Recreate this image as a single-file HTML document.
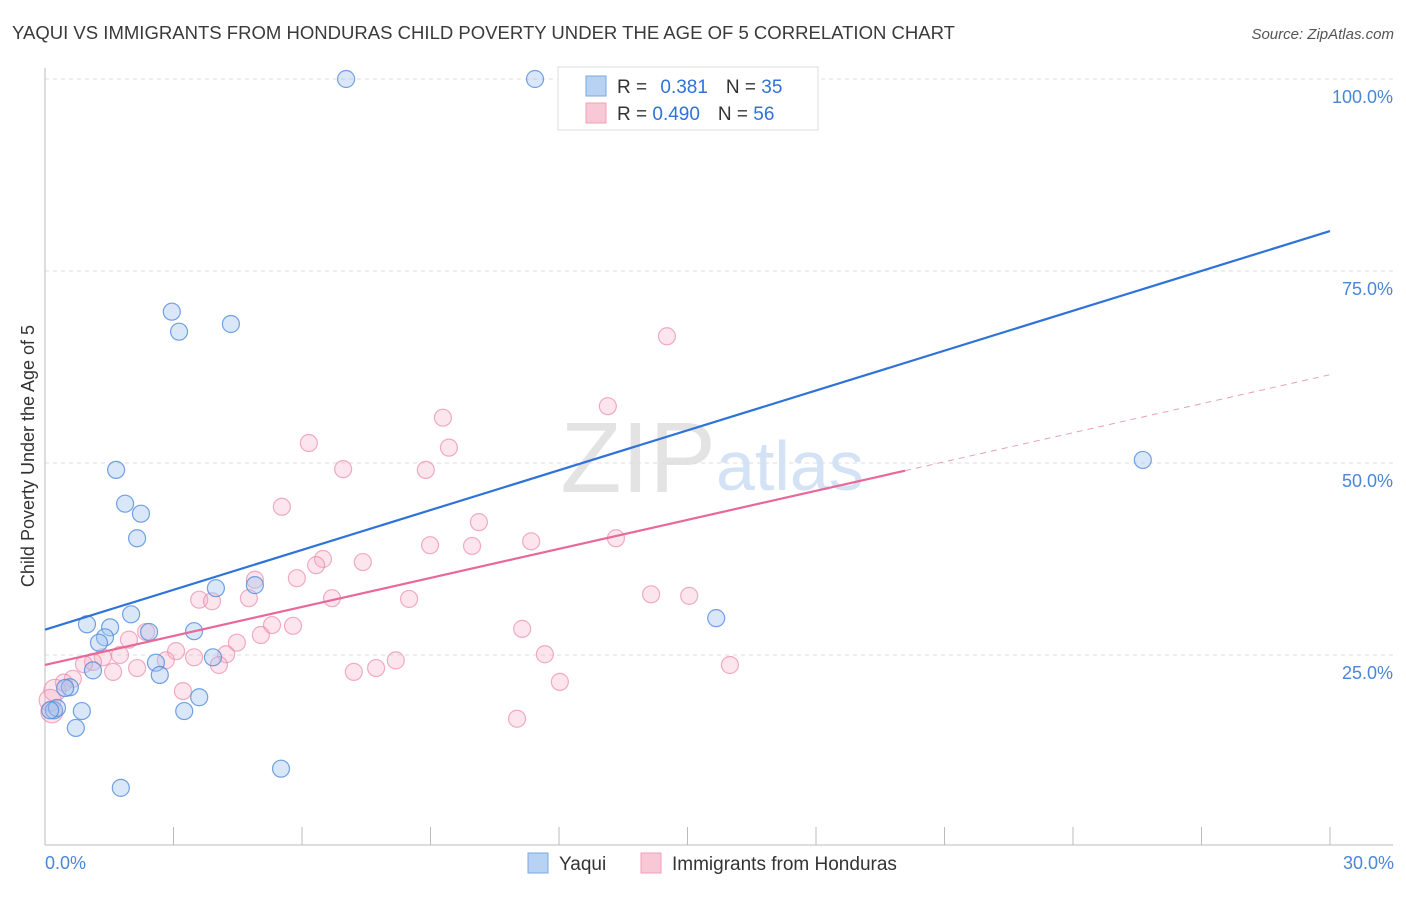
<!DOCTYPE html>
<html><head><meta charset="utf-8"><style>
body{margin:0;background:#fff;font-family:"Liberation Sans",sans-serif;}
svg text{font-family:"Liberation Sans",sans-serif;}
</style></head><body>
<svg id="chart" width="1406" height="892">
<text x="12" y="39" font-size="18" fill="#3a3a3a" textLength="943" lengthAdjust="spacingAndGlyphs">YAQUI VS IMMIGRANTS FROM HONDURAS CHILD POVERTY UNDER THE AGE OF 5 CORRELATION CHART</text>
<text x="1394" y="39" font-size="15" fill="#555" text-anchor="end" font-style="italic">Source: ZipAtlas.com</text>
<text x="716" y="492" font-size="100" fill="#e3e3e3" text-anchor="end" font-family="Liberation Serif">ZIP</text>
<text x="716" y="490" font-size="70" fill="#d3e2f4">atlas</text>
<g id="grid"></g><g id="axes"></g><g id="pts"></g><g id="lines"></g>
<text transform="translate(34,456) rotate(-90)" font-size="18" fill="#333" text-anchor="middle">Child Poverty Under the Age of 5</text>
<text x="45" y="869" font-size="18" fill="#4a86d8">0.0%</text>
<text x="1394" y="869" font-size="18" fill="#4a86d8" text-anchor="end">30.0%</text>
<g>
<rect x="558" y="67" width="260" height="63" fill="#fff" stroke="#ddd"/>
<rect x="586" y="76" width="20" height="20" fill="#b8d2f4" stroke="#7aa8e0"/>
<rect x="586" y="103" width="20" height="20" fill="#f8c8d6" stroke="#f0a0b8"/>
<text x="617" y="93" font-size="19" fill="#333">R = <tspan fill="#2f72d8" dx="8">0.381</tspan><tspan fill="#333" dx="18">N = </tspan><tspan fill="#2f72d8">35</tspan></text>
<text x="617" y="120" font-size="19" fill="#333">R = <tspan fill="#2f72d8">0.490</tspan><tspan fill="#333" dx="18">N = </tspan><tspan fill="#2f72d8">56</tspan></text>
</g>
<g>
<rect x="528" y="853" width="20" height="20" fill="#b8d2f4" stroke="#7aa8e0"/>
<text x="559" y="870" font-size="19" fill="#333">Yaqui</text>
<rect x="641" y="853" width="20" height="20" fill="#f8c8d6" stroke="#f0a0b8"/>
<text x="672" y="870" font-size="19" fill="#333">Immigrants from Honduras</text>
</g>
</svg>
<script>
const yTicks=[25,50,75,100];
const yTickLabels=["25.0%","50.0%","75.0%","100.0%"];
const xTicks=[0,3,6,9,12,15,18,21,24,27,30];
const yaquiX=[7.03,11.44,2.96,3.13,4.34,1.66,1.87,2.24,2.15,0.98,1.52,1.40,1.26,2.01,2.43,1.12,0.58,0.47,0.21,0.28,0.86,0.72,2.59,2.68,3.48,3.99,4.90,3.92,3.60,3.25,1.77,5.51,15.67,25.63,0.12];
const yaquiY=[100,100,69.7,67.1,68.1,49.1,44.7,43.4,40.2,29.0,28.6,27.3,26.6,30.3,28.0,23.0,20.8,20.7,17.8,18.1,17.7,15.5,24.0,22.4,28.1,33.7,34.1,24.7,19.5,17.7,7.7,10.2,29.8,50.4,17.8];
const hondX=[14.52,13.14,9.29,9.43,6.16,6.96,8.89,5.53,10.13,11.35,13.33,8.99,9.97,6.49,7.42,6.33,5.88,4.90,6.70,8.50,3.60,3.90,4.76,14.15,15.04,5.30,5.79,5.04,4.48,2.36,1.96,3.06,3.48,4.23,2.82,2.15,1.59,1.75,1.35,1.12,0.91,0.65,0.44,0.23,0.12,0.16,4.06,7.21,7.73,8.19,11.14,11.67,12.02,11.02,15.99,3.22];
const hondY=[66.5,57.4,55.9,52.0,52.6,49.2,49.1,44.3,42.3,39.8,40.2,39.3,39.2,37.5,37.1,36.7,35.0,34.8,32.4,32.3,32.2,32.0,32.4,32.9,32.7,28.9,28.8,27.6,26.6,28.0,27.0,25.5,24.7,25.1,24.3,23.3,22.8,25.0,24.7,24.1,23.8,21.9,21.4,20.4,19.1,17.6,23.7,22.8,23.3,24.3,28.4,25.1,21.5,16.7,23.7,20.3];
const yaquiLine=[28.3,80.2];
const hondLine=[23.7,61.5];
const hondSolidEnd=20.08;
const NS="http://www.w3.org/2000/svg";
const X=v=>45+v/30*1285, Y=v=>847-v*7.68;
function mk(p,t,a){const e=document.createElementNS(NS,t);for(const k in a)e.setAttribute(k,a[k]);document.getElementById(p).appendChild(e);return e;}
yTicks.forEach((t,i)=>{
 const l=mk('grid','line',{x1:45,x2:1393,y1:Y(t),y2:Y(t),stroke:'#ddd','stroke-dasharray':'4,4'});
 
 
 const tx=mk('grid','text',{x:1393,y:Y(t)+24,'font-size':18,fill:'#4a86d8','text-anchor':'end'});
 tx.textContent=yTickLabels[i];
 
 
});
mk('axes','line',{x1:45,x2:45,y1:68,y2:845,stroke:'#bbb'});
mk('axes','line',{x1:45,x2:1393,y1:845,y2:845,stroke:'#bbb'});
xTicks.forEach(t=>{const l=mk('axes','line',{x1:X(t),x2:X(t),y1:827,y2:845,stroke:'#bbb'});
 
 });
hondX.forEach((x,i)=>{const r=x<0.3?11:8.5;const c=mk('pts','circle',{cx:X(x),cy:Y(hondY[i]),r:r,fill:'rgba(245,170,195,0.3)',stroke:'rgba(235,140,170,0.7)','stroke-width':1.2});
 
 });
yaquiX.forEach((x,i)=>{const c=mk('pts','circle',{cx:X(x),cy:Y(yaquiY[i]),r:8.5,fill:'rgba(160,196,240,0.4)',stroke:'rgba(80,140,220,0.8)','stroke-width':1.2});
 
 });
const hy=x=>hondLine[0]+(hondLine[1]-hondLine[0])*x/30;
let l1=mk('lines','line',{x1:X(0),y1:Y(yaquiLine[0]),x2:X(30),y2:Y(yaquiLine[1]),stroke:'#2f72d8','stroke-width':2.2});


let l2=mk('lines','line',{x1:X(0),y1:Y(hy(0)),x2:X(hondSolidEnd),y2:Y(hy(hondSolidEnd)),stroke:'#e8689a','stroke-width':2.2});


let l3=mk('lines','line',{x1:X(hondSolidEnd),y1:Y(hy(hondSolidEnd)),x2:X(30),y2:Y(hy(30)),stroke:'#e8a0b8','stroke-width':1,'stroke-dasharray':'6,5'});


</script>
</body></html>
